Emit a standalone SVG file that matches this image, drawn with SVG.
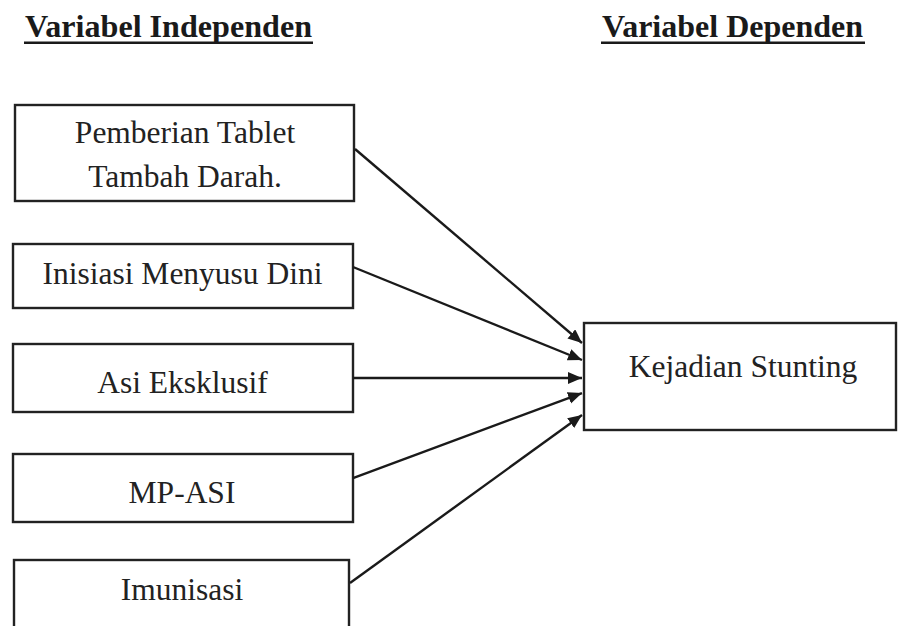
<svg xmlns="http://www.w3.org/2000/svg" width="898" height="626" viewBox="0 0 898 626">
  <style>
    .box { fill: #ffffff; stroke: #222; stroke-width: 2.4; }
    .lbl { font-family: "Liberation Serif", "Times New Roman", serif; font-size: 31.5px; fill: #222; text-anchor: middle; }
    .hdr { font-family: "Liberation Serif", "Times New Roman", serif; font-size: 31px; font-weight: bold; fill: #1a1a1a; }
    .ul { stroke: #1a1a1a; stroke-width: 2.6; }
    .conn { stroke: #1a1a1a; stroke-width: 2.4; fill: none; marker-end: url(#arr); }
  </style>
  <defs>
    <marker id="arr" markerUnits="userSpaceOnUse" markerWidth="16" markerHeight="14" refX="14" refY="6" orient="auto">
      <path d="M0,0 L14,6 L0,12 Z" fill="#1a1a1a"/>
    </marker>
  </defs>
  <rect width="898" height="626" fill="#ffffff"/>

  <g id="header-independen">
    <text class="hdr" x="25" y="37" textLength="287" lengthAdjust="spacingAndGlyphs">Variabel Independen</text>
    <line class="ul" x1="24" y1="42.7" x2="313" y2="42.7"/>
  </g>
  <g id="header-dependen">
    <text class="hdr" x="602" y="37" textLength="261" lengthAdjust="spacingAndGlyphs">Variabel Dependen</text>
    <line class="ul" x1="601" y1="42.7" x2="865" y2="42.7"/>
  </g>

  <g id="node-ttd">
    <rect class="box" x="15" y="105" width="339" height="96"/>
    <text class="lbl" x="185" y="143">Pemberian Tablet</text>
    <text class="lbl" x="185" y="187">Tambah Darah.</text>
  </g>
  <g id="node-imd">
    <rect class="box" x="13" y="244" width="340" height="64"/>
    <text class="lbl" x="182.5" y="284">Inisiasi Menyusu Dini</text>
  </g>
  <g id="node-asi">
    <rect class="box" x="13" y="344" width="340" height="68"/>
    <text class="lbl" x="182.5" y="393">Asi Eksklusif</text>
  </g>
  <g id="node-mpasi">
    <rect class="box" x="13" y="454" width="340" height="68"/>
    <text class="lbl" x="182" y="503">MP-ASI</text>
  </g>
  <g id="node-imunisasi">
    <rect class="box" x="14" y="560" width="335" height="90"/>
    <text class="lbl" x="182" y="600">Imunisasi</text>
  </g>
  <g id="node-stunting">
    <rect class="box" x="584" y="323" width="312" height="107"/>
    <text class="lbl" x="743" y="377">Kejadian Stunting</text>
  </g>

  <g id="connectors">
    <line class="conn" x1="355" y1="149" x2="582" y2="343"/>
    <line class="conn" x1="353" y1="267" x2="582" y2="360"/>
    <line class="conn" x1="353" y1="378" x2="582" y2="378"/>
    <line class="conn" x1="353" y1="478" x2="582" y2="393"/>
    <line class="conn" x1="350" y1="583" x2="582" y2="415"/>
  </g>
</svg>
